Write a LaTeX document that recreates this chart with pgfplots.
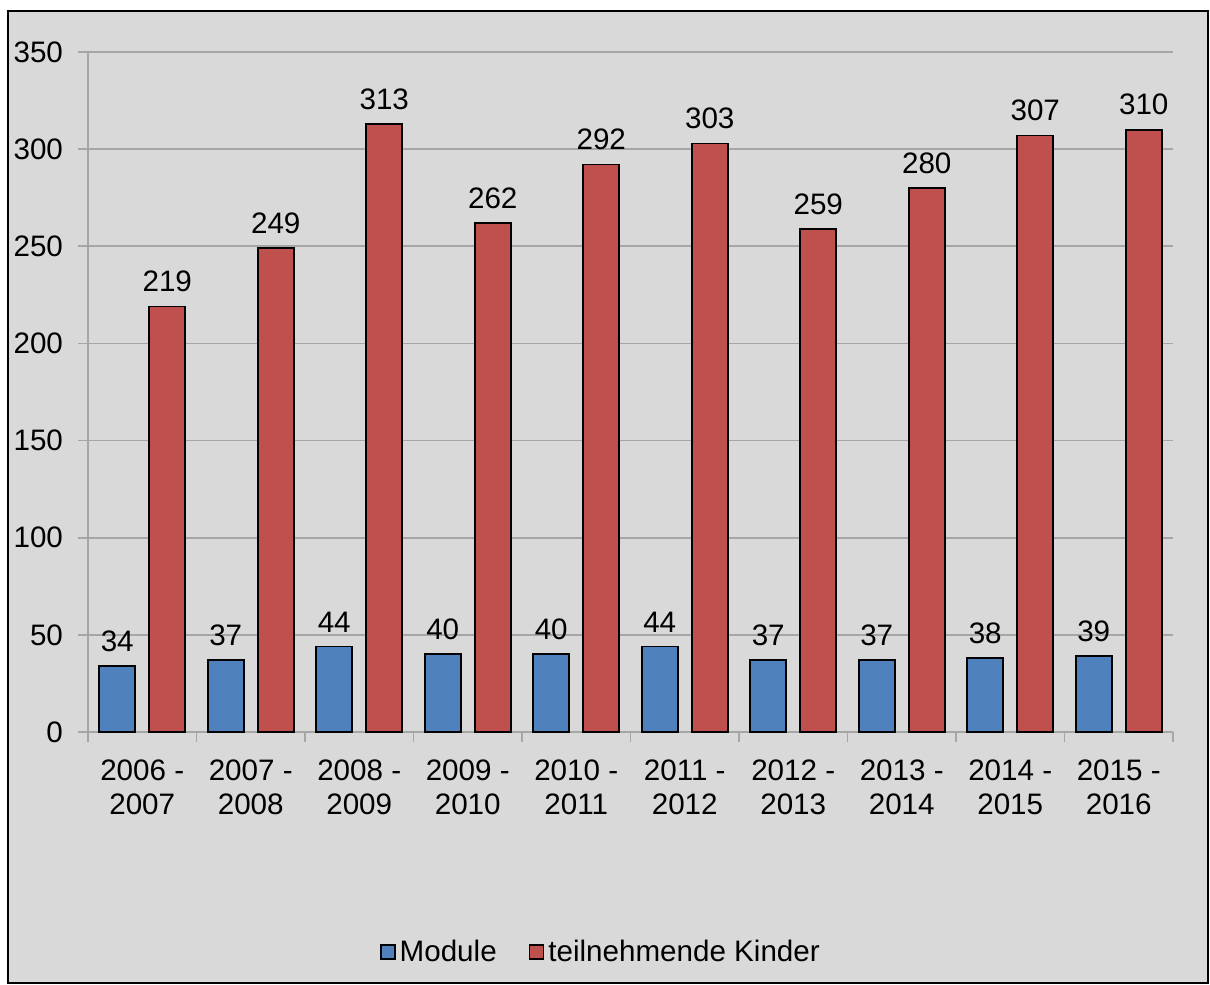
\documentclass[border=0pt]{standalone}
\usepackage{pgfplots}
\pgfplotsset{compat=1.18}
\usepackage{fontspec}
\setmainfont{Liberation Sans}

\definecolor{bg}{HTML}{D9D9D9}
\definecolor{gridgray}{HTML}{A6A6A6}
\definecolor{modblue}{HTML}{4F81BD}
\definecolor{kidred}{HTML}{C0504D}

\begin{document}
\begin{tikzpicture}
  % page size and chart frame
  \path (-44pt,-126.5pt) rectangle (561pt,366pt);
  \filldraw[fill=bg, draw=black, line width=1pt] (-40pt,-125.5pt) rectangle (560pt,360.5pt);
  \begin{axis}[
      scale only axis,
      width=542.5pt, height=340pt,
      font=\fontsize{14.8}{17}\selectfont,
      /pgf/number format/assume math mode=true,
      ybar, bar width=18pt,
      xmin=-0.5, xmax=9.5,
      ymin=0, ymax=350,
      ytick={0,50,...,350},
      xtick={0,...,9},
      xticklabels={2006 -\\2007, 2007 -\\2008, 2008 -\\2009, 2009 -\\2010, 2010 -\\2011,
                   2011 -\\2012, 2012 -\\2013, 2013 -\\2014, 2014 -\\2015, 2015 -\\2016},
      x tick label style={align=center, yshift=-5.5pt},
      y tick label style={xshift=-4pt},
      minor xtick={-0.5,0.5,...,9.5},
      major x tick style={draw=none},
      tick align=outside,
      major tick length=5pt, minor tick length=5pt,
      tick style={draw=gridgray, line width=0.8pt},
      axis x line*=bottom, axis y line*=left,
      axis line style={draw=gridgray, line width=0.8pt, -},
      ymajorgrids, grid style={draw=gridgray, line width=0.8pt},
      nodes near coords,
      nodes near coords style={font=\fontsize{14.8}{17}\selectfont, text=black, yshift=3.5pt},
      legend style={at={(0.4737,-0.3235)}, anchor=center, draw=none, fill=none,
                    legend columns=2, font=\fontsize{14.8}{17}\selectfont,
                    /tikz/every even column/.append style={column sep=14pt}},
      legend image code/.code={\draw[#1, draw=black, line width=0.8pt] (0pt,-3.5pt) rectangle (7pt,3.5pt);},
    ]
    \addplot[fill=modblue, draw=black, line width=0.8pt, bar shift=-12.5pt]
      coordinates {(0,34) (1,37) (2,44) (3,40) (4,40) (5,44) (6,37) (7,37) (8,38) (9,39)};
    \addlegendentry{Module}
    \addplot[fill=kidred, draw=black, line width=0.8pt, bar shift=12.5pt]
      coordinates {(0,219) (1,249) (2,313) (3,262) (4,292) (5,303) (6,259) (7,280) (8,307) (9,310)};
    \addlegendentry{teilnehmende Kinder}
  \end{axis}
\end{tikzpicture}
\end{document}
